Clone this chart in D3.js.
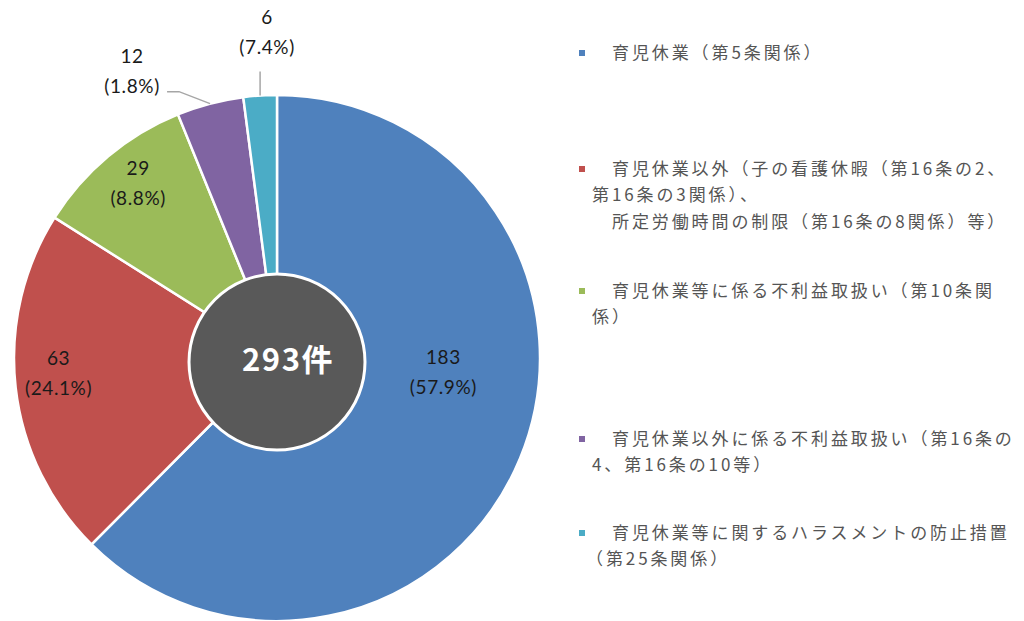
<!DOCTYPE html>
<html>
<head>
<meta charset="utf-8">
<script src="https://cdn.jsdelivr.net/npm/d3@7"></script>
<style>
body { margin: 0; background: #fff; }
svg { display: block; }
.val { font-family: Lato, "Open Sans", sans-serif; font-size: 19px; fill: #1a1a1a; letter-spacing: 0.6px; }
.leg { font-family: "Noto Sans CJK JP", sans-serif; font-size: 17px; fill: #555; letter-spacing: 2.9px; }
</style>
</head>
<body>
<div id="chart"></div>
<script>
// data
const categories = [
	'育児休業（第5条関係）',
	'育児休業以外（子の看護休暇（第16条の2、第16条の3関係）、所定労働時間の制限（第16条の8関係）等）',
	'育児休業等に係る不利益取扱い（第10条関係）',
	'育児休業以外に係る不利益取扱い（第16条の4、第16条の10等）',
	'育児休業等に関するハラスメントの防止措置（第25条関係）'
]
const counts = [183, 63, 29, 12, 6]
const pctLabels = ['(57.9%)', '(24.1%)', '(8.8%)', '(1.8%)', '(7.4%)']
const totalLabel = '293件'

// legend text as it wraps in the original
const legendLines = [
	['育児休業（第5条関係）'],
	['育児休業以外（子の看護休暇（第16条の2、', '第16条の3関係）、', '所定労働時間の制限（第16条の8関係）等）'],
	['育児休業等に係る不利益取扱い（第10条関', '係）'],
	['育児休業以外に係る不利益取扱い（第16条の', '4、第16条の10等）'],
	['育児休業等に関するハラスメントの防止措置', '（第25条関係）']
]

const colors = ['#4f81bd', '#c0504d', '#9bbb59', '#8064a2', '#4bacc6']

const width = 1024, height = 621
const cx = 277, cy = 358, R = 263, holeR = 88

const svg = d3.select('#chart').append('svg')
.attr('width', width)
.attr('height', height)

const pie = d3.pie().sort(null).value(d => d)
const arcs = pie(counts)

const arc = d3.arc().innerRadius(0).outerRadius(R)

const g = svg.append('g').attr('transform', `translate(${cx},${cy})`)

g.selectAll('path.slice')
.data(arcs)
.enter()
.append('path')
.attr('class', 'slice')
.attr('d', arc)
.attr('fill', (d,i) => colors[i])
.attr('stroke', '#fff')
.attr('stroke-width', 2.5)

// centre disc
g.append('circle')
.attr('cx', 0)
.attr('cy', 4)
.attr('r', holeR)
.attr('fill', '#595959')
.attr('stroke', '#fff')
.attr('stroke-width', 3)

g.append('text')
.attr('x', 11)
.attr('y', 2)
.attr('dy', '0.35em')
.attr('text-anchor', 'middle')
.style('font-family', '"Noto Sans CJK JP", sans-serif')
.style('font-weight', 'bold')
.style('font-size', '31px')
.style('letter-spacing', '1.5px')
.attr('fill', '#fff')
.text(totalLabel)

// label placement (angle in degrees clockwise from top, radius) for the inside labels
const inside = {0: {a: 94.8, r: 167}, 1: {a: 266, r: 219}, 2: {a: 321.5, r: 223}}

const polar = (a, r) => [r * Math.sin(a * Math.PI / 180), -r * Math.cos(a * Math.PI / 180)]

const drawLabel = (x, y, i, anchor) => {
	const t = g.append('text')
	.attr('class', 'val')
	.attr('text-anchor', anchor || 'middle')
	t.append('tspan').attr('x', x).attr('y', y - 15).attr('dy', '0.35em').text(counts[i])
	t.append('tspan').attr('x', x).attr('y', y + 15).attr('dy', '0.35em').text(pctLabels[i])
}

arcs.forEach((d, i) => {
	const mid = (d.startAngle + d.endAngle) / 2
	const edge = [R * Math.sin(mid), -R * Math.cos(mid)]
	if (inside[i]) {
		const p = polar(inside[i].a, inside[i].r)
		drawLabel(p[0], p[1], i)
	} else if (i === 3) {
		const elbow = [edge[0] - 31, edge[1] - 12]
		const end = [elbow[0] - 12, elbow[1]]
		g.append('path')
		.attr('d', `M${edge[0]},${edge[1]}L${elbow[0]},${elbow[1]}L${end[0]},${end[1]}`)
		.attr('fill', 'none')
		.attr('stroke', '#a6a6a6')
		.attr('stroke-width', 1.5)
		drawLabel(end[0] - 35, end[1] - 20, i)
	} else {
		const top = [edge[0], edge[1] - 24]
		g.append('path')
		.attr('d', `M${edge[0]},${edge[1]}L${top[0]},${top[1]}`)
		.attr('fill', 'none')
		.attr('stroke', '#a6a6a6')
		.attr('stroke-width', 1.5)
		drawLabel(top[0] + 7, top[1] - 39, i)
	}
})

// legend
const legendTops = [53, 169, 291, 439, 533]
const lineH = 26.5

const legend = svg.append('g').attr('class', 'legend')

legendLines.forEach((lines, i) => {
	legend.append('rect')
	.attr('x', 579)
	.attr('y', legendTops[i] - 3)
	.attr('width', 6)
	.attr('height', 6)
	.attr('fill', colors[i])

	lines.forEach((line, j) => {
		let x = j === 0 ? 612 : 592
		if (i === 1 && j === 2) x = 612
		if (i === 4 && j === 1) x = 586
		legend.append('text')
		.attr('class', 'leg')
		.attr('x', x)
		.attr('y', legendTops[i] + j * lineH)
		.attr('dy', '0.35em')
		.text(line)
	})
})
</script>
</body>
</html>
